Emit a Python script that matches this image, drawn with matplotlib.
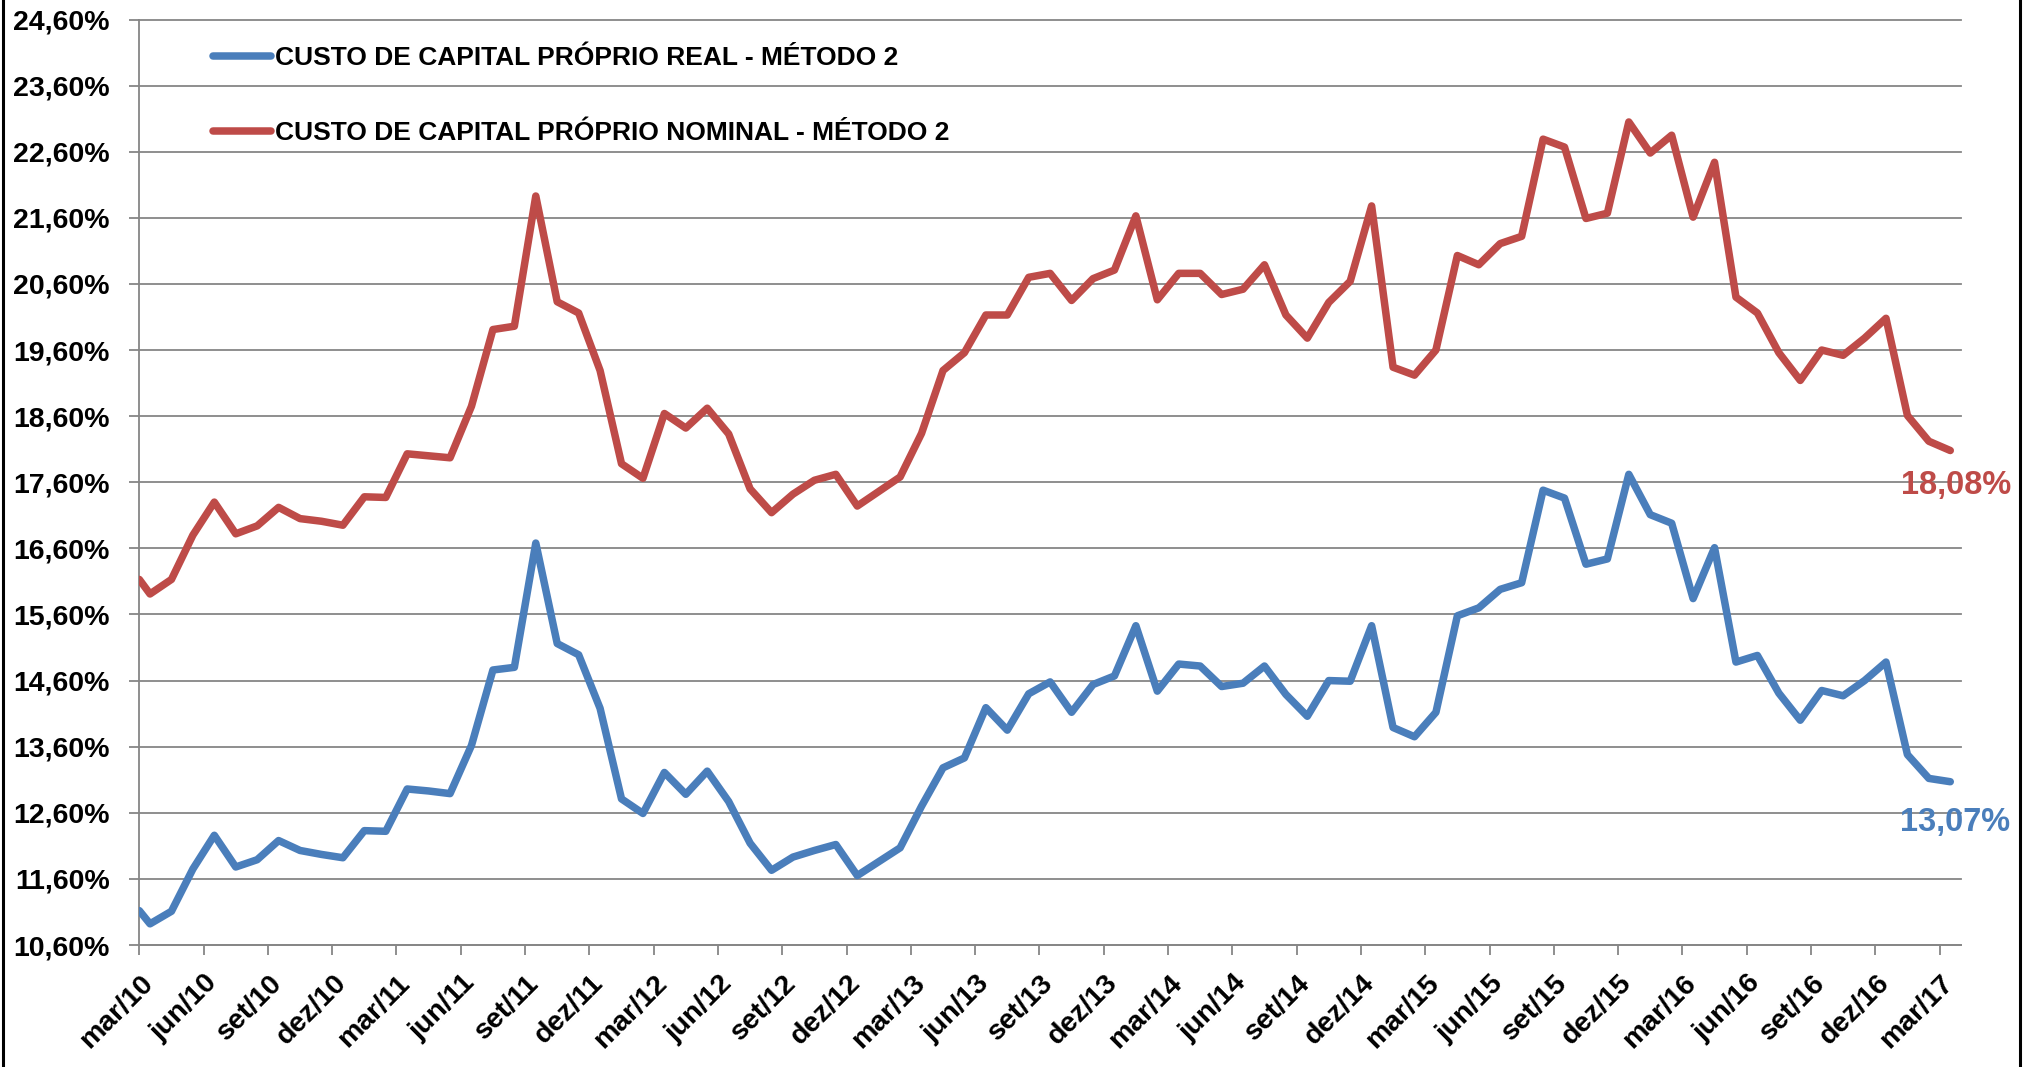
import matplotlib
matplotlib.use("Agg")
import matplotlib.pyplot as plt
from matplotlib.lines import Line2D
from matplotlib.transforms import ScaledTranslation

plt.rcParams['font.family'] = ['Liberation Sans', 'DejaVu Sans']
plt.rcParams['font.weight'] = 'bold'

# x position in months after mar/10 (first observation at the axis origin, then mid-month)
month_pos = [0.0] + [k + 0.5 for k in range(85)]

real = [11.12, 10.92, 11.11, 11.75, 12.26, 11.78, 11.89, 12.18, 12.03, 11.97,
        11.92, 12.33, 12.32, 12.96, 12.93, 12.89, 13.62, 14.76, 14.80, 16.68,
        15.16, 14.99, 14.18, 12.81, 12.59, 13.21, 12.88, 13.23, 12.77, 12.14,
        11.73, 11.93, 12.03, 12.12, 11.65, 11.86, 12.07, 12.70, 13.28, 13.43,
        14.19, 13.85, 14.40, 14.58, 14.12, 14.54, 14.67, 15.43, 14.44, 14.85,
        14.82, 14.51, 14.56, 14.82, 14.39, 14.06, 14.60, 14.59, 15.43, 13.89,
        13.75, 14.12, 15.58, 15.70, 15.98, 16.08, 17.48, 17.36, 16.36, 16.44,
        17.72, 17.11, 16.98, 15.84, 16.61, 14.88, 14.98, 14.41, 14.00, 14.45,
        14.37, 14.60, 14.88, 13.48, 13.12, 13.07]

nominal = [16.13, 15.91, 16.13, 16.80, 17.30, 16.82, 16.94, 17.22, 17.05, 17.01,
           16.95, 17.38, 17.37, 18.03, 18.00, 17.97, 18.75, 19.91, 19.96, 21.93,
           20.33, 20.16, 19.29, 17.88, 17.66, 18.64, 18.42, 18.72, 18.33, 17.50,
           17.14, 17.42, 17.63, 17.72, 17.24, 17.46, 17.68, 18.34, 19.29, 19.56,
           20.13, 20.13, 20.70, 20.76, 20.35, 20.68, 20.81, 21.63, 20.36, 20.76,
           20.76, 20.44, 20.52, 20.89, 20.13, 19.78, 20.32, 20.64, 21.78, 19.34,
           19.22, 19.60, 21.03, 20.89, 21.21, 21.32, 22.79, 22.67, 21.59, 21.67,
           23.05, 22.58, 22.85, 21.61, 22.44, 20.40, 20.16, 19.56, 19.14, 19.60,
           19.52, 19.78, 20.08, 18.61, 18.22, 18.08]

x_tick_labels = ["mar/10", "jun/10", "set/10", "dez/10",
                 "mar/11", "jun/11", "set/11", "dez/11",
                 "mar/12", "jun/12", "set/12", "dez/12",
                 "mar/13", "jun/13", "set/13", "dez/13",
                 "mar/14", "jun/14", "set/14", "dez/14",
                 "mar/15", "jun/15", "set/15", "dez/15",
                 "mar/16", "jun/16", "set/16", "dez/16",
                 "mar/17"]
x_tick_pos = list(range(0, 85, 3))

y_ticks = [10.6, 11.6, 12.6, 13.6, 14.6, 15.6, 16.6, 17.6, 18.6, 19.6,
           20.6, 21.6, 22.6, 23.6, 24.6]
y_tick_labels = ["10,60%", "11,60%", "12,60%", "13,60%", "14,60%", "15,60%",
                 "16,60%", "17,60%", "18,60%", "19,60%", "20,60%", "21,60%",
                 "22,60%", "23,60%", "24,60%"]

series_names = ["CUSTO DE CAPITAL PRÓPRIO REAL - MÉTODO 2",
                "CUSTO DE CAPITAL PRÓPRIO NOMINAL - MÉTODO 2"]

BLUE = "#4A7EBB"
RED = "#BE4B48"
GRID = "#868686"

W, H = 2035, 1067
fig = plt.figure(figsize=(W / 100, H / 100), dpi=100)
ax = fig.add_axes([139.3 / W, 1 - 945 / H, (1961 - 139.3) / W, (945 - 19.5) / H])

l1, = ax.plot(month_pos, real, color=BLUE, lw=5.4, solid_joinstyle='round',
              solid_capstyle='round', label=series_names[0], zorder=3)
l2, = ax.plot(month_pos, nominal, color=RED, lw=5.4, solid_joinstyle='round',
              solid_capstyle='round', label=series_names[1], zorder=3)

ax.set_xlim(0, 85)
ax.set_ylim(10.6, 24.6)

ax.set_yticks(y_ticks)
ax.set_yticklabels(y_tick_labels)
ax.set_xticks(x_tick_pos)
ax.set_xticklabels(x_tick_labels, rotation=45, ha='right', va='center',
                   rotation_mode='anchor')

ax.tick_params(axis='y', length=7.2, width=1.3, color=GRID, pad=14,
               labelsize=20.5)
ax.tick_params(axis='x', length=7.2, width=1.3, color=GRID, pad=17.5,
               labelsize=20.5)
for lab in ax.get_xticklabels():
    lab.set_fontweight('bold')
    lab.set_transform(lab.get_transform() +
                      ScaledTranslation(10 / 100, 0, fig.dpi_scale_trans))
for lab in ax.get_yticklabels():
    lab.set_fontweight('bold')

for s in ['top', 'right']:
    ax.spines[s].set_visible(False)
for s in ['left', 'bottom']:
    ax.spines[s].set_color(GRID)
    ax.spines[s].set_linewidth(1.3)

ax.grid(axis='y', color=GRID, lw=1.3)
ax.set_axisbelow(True)
for gl in ax.get_ygridlines():
    gl.set_clip_on(False)

leg = ax.legend(handles=[l1, l2], loc='upper left',
                bbox_to_anchor=(73.4 / 1821.7, 1 - 26.5 / 925.5),
                borderaxespad=0, borderpad=0, frameon=False,
                handlelength=2.2, handletextpad=0.15, labelspacing=1.93,
                prop={'size': 19, 'weight': 'bold'})

def pct(v):
    return f"{v:.2f}%".replace('.', ',')

ax.annotate(pct(nominal[-1]), xy=(month_pos[-1], nominal[-1]),
            xytext=(4.2, -25.2), textcoords='offset points', ha='center',
            va='center', color=RED, fontsize=23.5, fontweight='bold',
            annotation_clip=False)
ax.annotate(pct(real[-1]), xy=(month_pos[-1], real[-1]),
            xytext=(3.5, -29.1), textcoords='offset points', ha='center',
            va='center', color=BLUE, fontsize=23.5, fontweight='bold',
            annotation_clip=False)

# outer chart frame (left and right edges visible in the reference)
for xpx in (2.7, 2020):
    fig.add_artist(Line2D([xpx / W, xpx / W], [0, 1], transform=fig.transFigure,
                          color='black', lw=2.2))

fig.savefig("out.png", dpi=100)
